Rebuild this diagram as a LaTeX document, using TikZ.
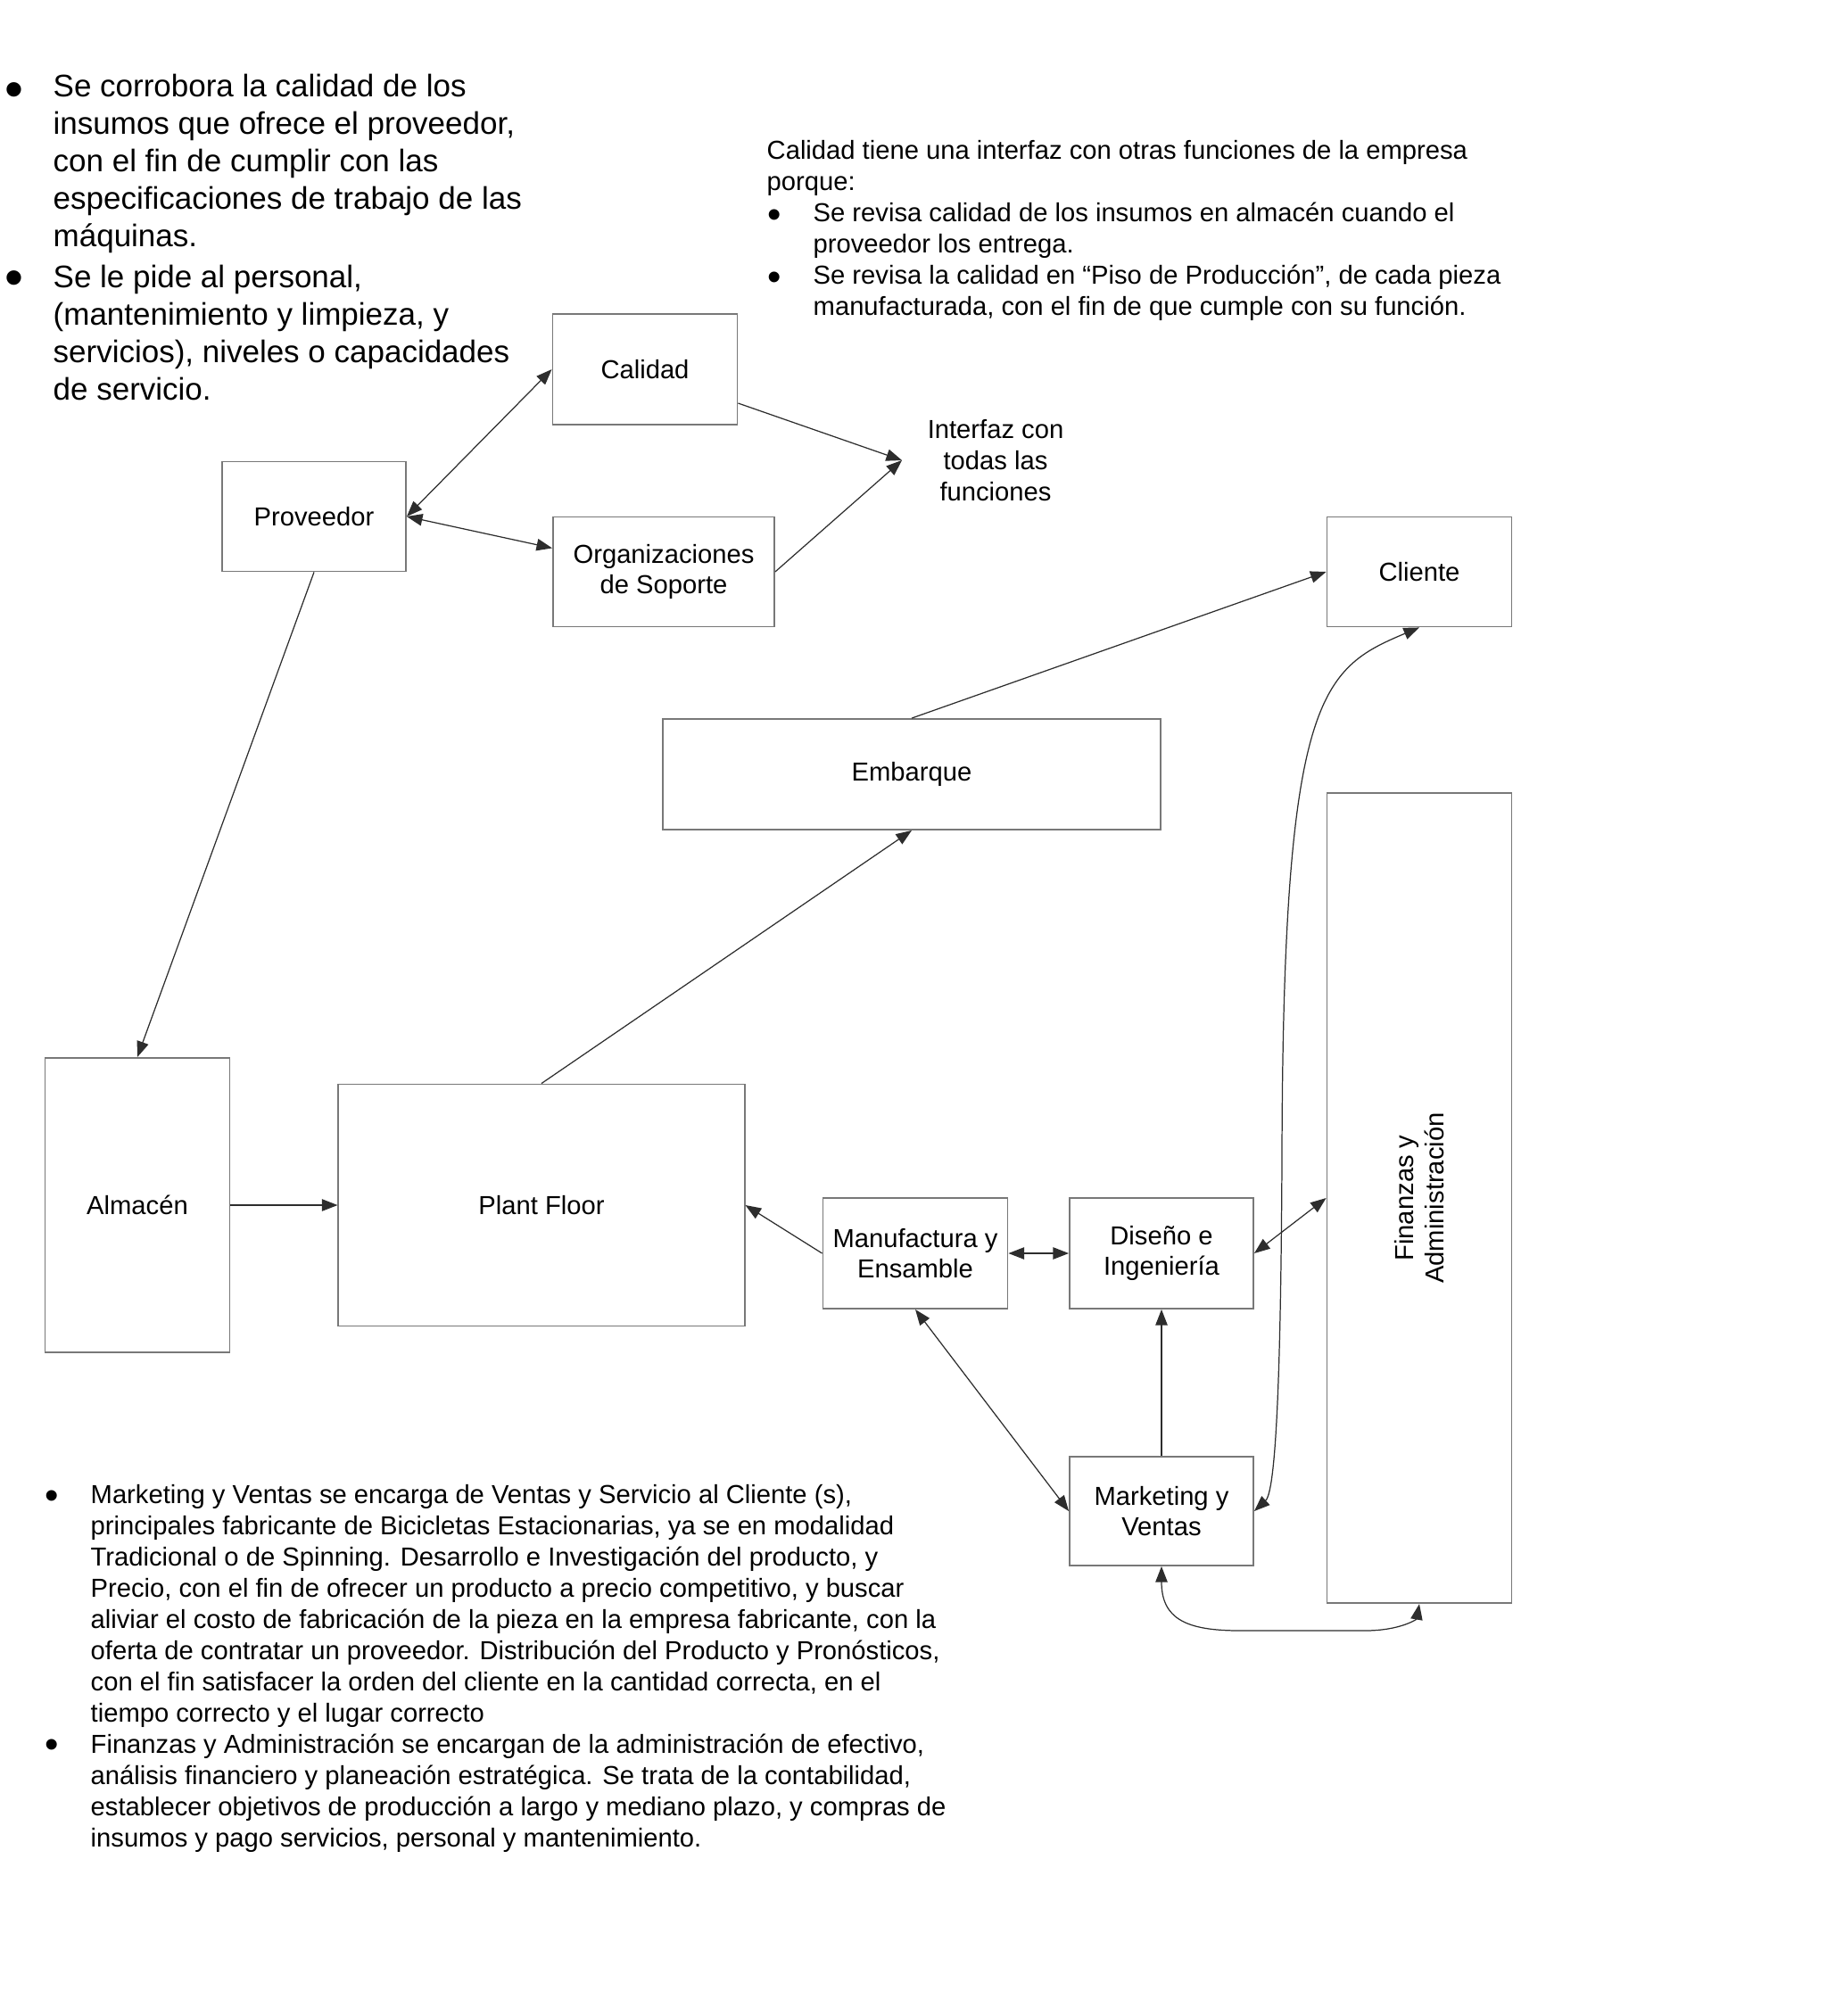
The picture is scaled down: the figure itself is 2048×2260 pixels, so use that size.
\documentclass[tikz,border=0pt]{standalone}
\usepackage{fontspec}
\setmainfont{Liberation Sans}
\usepackage{tikz}
\usetikzlibrary{arrows.meta}
\definecolor{boxline}{RGB}{120,120,120}
\definecolor{wire}{RGB}{45,45,45}

\tikzset{
  funcbox/.style={draw=boxline, line width=0.5pt, fill=white, align=center,
    inner sep=0pt, font=\fontsize{8.3}{9.9}\selectfont},
  link/.style={wire, line width=0.35pt, -{Triangle[length=5pt,width=3.8pt]}},
  dlink/.style={wire, line width=0.35pt,
    {Triangle[length=5pt,width=3.8pt]}-{Triangle[length=5pt,width=3.8pt]}},
  note/.style={align=left, inner sep=0pt, anchor=west, font=\fontsize{8.3}{9.95}\selectfont},
  bignote/.style={note, font=\fontsize{9.95}{11.92}\selectfont},
  dot/.style={note, font=\fontsize{12.5}{12.5}\selectfont},
  bigdot/.style={note, font=\fontsize{17}{17}\selectfont},
}

\begin{document}
\begin{tikzpicture}[x=0.01cm, y=-0.01cm]
\useasboundingbox (0,0) rectangle (2048,2260);
% ---- notes, top left
\node[bigdot] (tlb1) at (5,107) {\textbullet};
\node[bignote] (tl1) at (59,183.2)
  {Se corrobora la calidad de los\\insumos que ofrece el proveedor,\\con el fin de cumplir con las\\especificaciones de trabajo de las\\máquinas.};
\node[bigdot] (tlb2) at (5,318) {\textbullet};
\node[bignote] (tl2) at (59,372.7)
  {Se le pide al personal,\\(mantenimiento y limpieza, y\\servicios), niveles o capacidades\\de servicio.};
% ---- notes, top right
\node[note] (tr0) at (859,188.9)
  {Calidad tiene una interfaz con otras funciones de la empresa\\porque:};
\node[dot] (trb1) at (860,245) {\textbullet};
\node[note] (tr1) at (911,258.1)
  {Se revisa calidad de los insumos en almacén cuando el\\proveedor los entrega.};
\node[dot] (trb2) at (860,315.5) {\textbullet};
\node[note] (tr2) at (911,328.7)
  {Se revisa la calidad en “Piso de Producción”, de cada pieza\\manufacturada, con el fin de que cumple con su función.};
% ---- notes, bottom
\node[dot] (btb1) at (50,1681) {\textbullet};
\node[note] (bt1) at (101,1800.3)
  {Marketing y Ventas se encarga de Ventas y Servicio al Cliente (s),\\
   principales fabricante de Bicicletas Estacionarias, ya se en modalidad\\
   Tradicional o de Spinning. Desarrollo e Investigación del producto, y\\
   Precio, con el fin de ofrecer un producto a precio competitivo, y buscar\\
   aliviar el costo de fabricación de la pieza en la empresa fabricante, con la\\
   oferta de contratar un proveedor. Distribución del Producto y Pronósticos,\\
   con el fin satisfacer la orden del cliente en la cantidad correcta, en el\\
   tiempo correcto y el lugar correcto};
\node[dot] (btb2) at (50,1960.5) {\textbullet};
\node[note] (bt2) at (101,2010)
  {Finanzas y Administración se encargan de la administración de efectivo,\\
   análisis financiero y planeación estratégica. Se trata de la contabilidad,\\
   establecer objetivos de producción a largo y mediano plazo, y compras de\\
   insumos y pago servicios, personal y mantenimiento.};
% ---- functions
\node[funcbox, minimum width=2.07cm, minimum height=1.24cm] (cal) at (723,414) {Calidad};
\node[funcbox, minimum width=2.06cm, minimum height=1.23cm] (prov) at (352,579) {Proveedor};
\node[funcbox, minimum width=2.48cm, minimum height=1.23cm] (org) at (744,641) {Organizaciones\\de Soporte};
\node[align=center, inner xsep=0.28cm, inner ysep=0pt, font=\fontsize{8.3}{9.9}\selectfont]
  (intf) at (1116,516) {Interfaz con\\todas las\\funciones};
\node[funcbox, minimum width=2.07cm, minimum height=1.23cm] (cli) at (1591,641) {Cliente};
\node[funcbox, minimum width=5.57cm, minimum height=1.24cm] (emb) at (1022,868) {Embarque};
\node[funcbox, minimum width=2.07cm, minimum height=9.08cm] (fin) at (1591,1343) {};
\node[align=center, rotate=90, inner sep=0pt, font=\fontsize{8.3}{9.9}\selectfont]
  (finlbl) at (fin.center) {Finanzas y\\Administración};
\node[funcbox, minimum width=2.07cm, minimum height=3.30cm] (alm) at (154,1351) {Almacén};
\node[funcbox, minimum width=4.55cm, minimum height=2.71cm] (plant) at (607,1351) {Plant Floor};
\node[funcbox, minimum width=2.07cm, minimum height=1.24cm] (manu) at (1026,1405) {Manufactura y\\Ensamble};
\node[funcbox, minimum width=2.06cm, minimum height=1.24cm] (dis) at (1302,1405) {Diseño e\\Ingeniería};
\node[funcbox, minimum width=2.06cm, minimum height=1.22cm] (mkt) at (1302,1694) {Marketing y\\Ventas};
% ---- connectors
\draw[dlink] (prov.east) -- (cal.west);
\draw[dlink] (prov.east) -- (org.168);
\draw[link] (cal.-20) -- (intf.west);
\draw[link] (org.east) -- (intf.west);
\draw[link] (prov.south) -- (alm.north);
\draw[link] (alm.east) -- (plant.west);
\draw[link] (plant.north) -- (emb.south);
\draw[link] (emb.north) -- (cli.west);
\draw[link] (manu.west) -- (plant.east);
\draw[dlink] (manu.east) -- (dis.west);
\draw[dlink] (dis.east) -- (fin.west);
\draw[link] (mkt.north) -- (dis.south);
\draw[dlink] (manu.south) -- (mkt.west);
\draw[dlink] (mkt.east) .. controls (1432,1670) and (1436,1500) .. (1437,1300)
  .. controls (1438,780) and (1480,750) .. (cli.south);
\draw[dlink] (mkt.south) .. controls (1302,1815) and (1330,1828) .. (1390,1828)
  -- (1530,1828) .. controls (1570,1828) and (1588,1815) .. (fin.south);
\end{tikzpicture}
\end{document}
